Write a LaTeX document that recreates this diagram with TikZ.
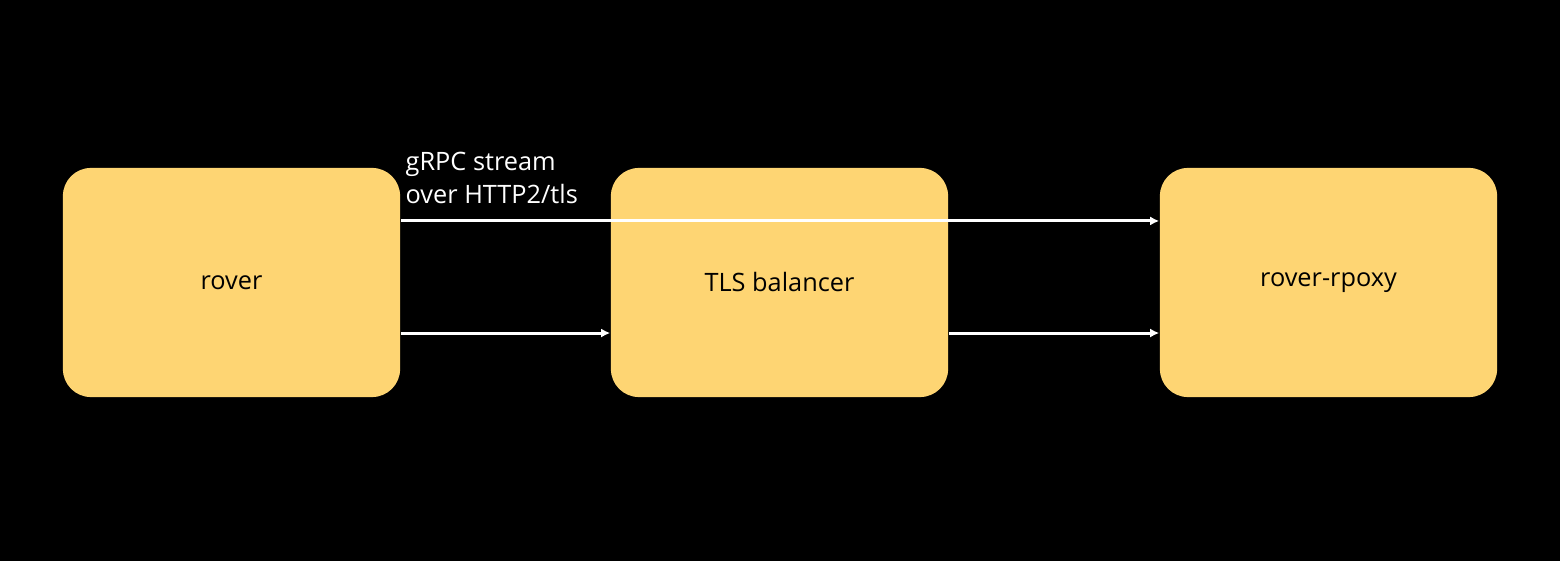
\documentclass[tikz,border=0pt]{standalone}
\usepackage{fontspec}
\setmainfont{Open Sans}
\usetikzlibrary{arrows.meta}
\definecolor{boxy}{HTML}{FED573}
\begin{document}
\begin{tikzpicture}[x=0.01cm,y=-0.01cm,
  box/.style={fill=boxy,draw=none,rounded corners=0.28cm,minimum width=3.37cm,minimum height=2.29cm,font=\fontsize{7.2pt}{9pt}\selectfont,text=black},
  arr/.style={draw=white,line width=0.85pt,-{Latex[length=2.6pt,width=2.6pt]}}]
\fill[black] (0,0) rectangle (1560,561);
\useasboundingbox (0,0) rectangle (1560,561);
\node[box] (rover) at (231.5,282.5) {rover};
\node[box] (tls) at (779.5,282.5) {TLS balancer};
\node[box] (rp) at (1328.5,282.5) {rover-rpoxy};
\draw[arr] ([yshift=0.615cm]rover.east) -- ([yshift=0.615cm]rp.west);
\draw[arr] ([yshift=-0.505cm]rover.east) -- ([yshift=-0.505cm]tls.west);
\draw[arr] ([yshift=-0.505cm]tls.east) -- ([yshift=-0.505cm]rp.west);
\node[anchor=south west,text=white,align=left,inner sep=0pt,font=\fontsize{7.2pt}{9.3pt}\selectfont] (lbl) at (405,204) {gRPC stream\\over HTTP2/tls};
\end{tikzpicture}
\end{document}
